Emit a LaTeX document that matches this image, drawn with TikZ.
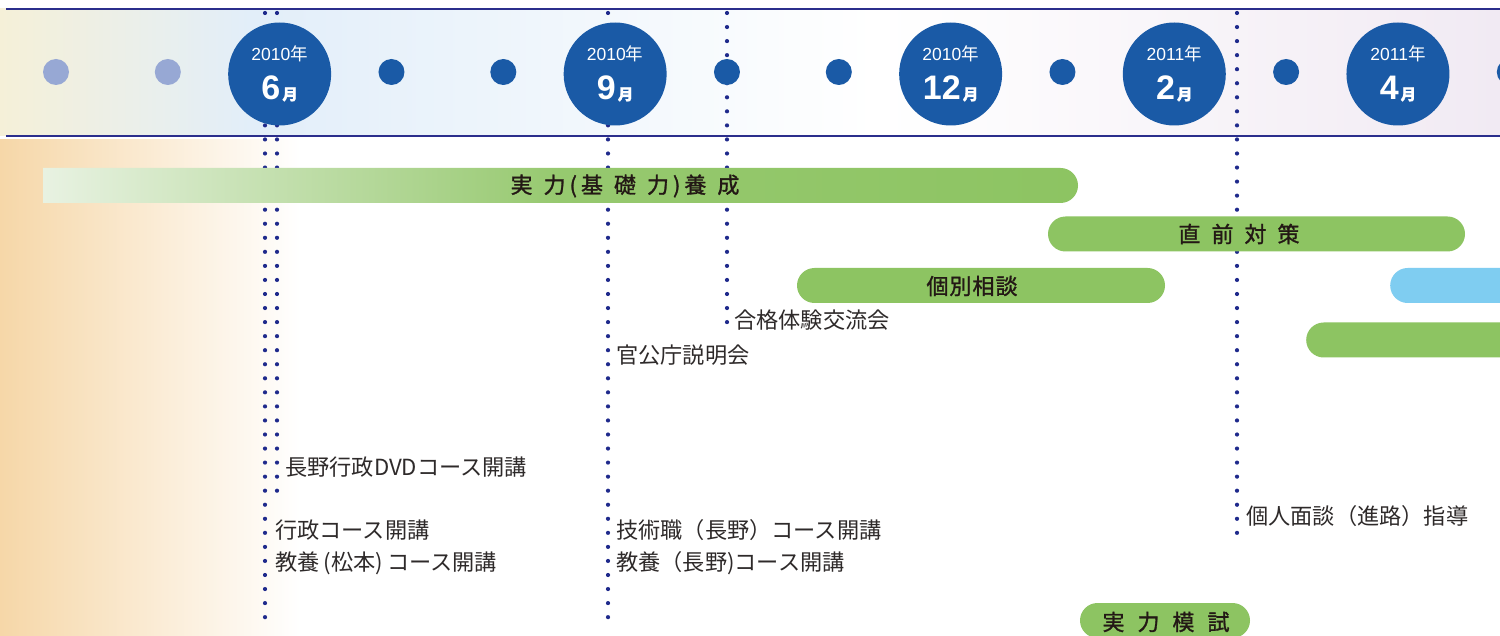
\documentclass[tikz,border=0pt]{standalone}
\usepackage{fontspec}
\setmainfont{Noto Sans CJK JP}
\newfontfamily\barfont[FakeBold=1.3]{Noto Sans CJK JP}
\newfontfamily\digitfont{Liberation Sans}
\usetikzlibrary{shapes.misc}

\definecolor{diskblue}{HTML}{1A5AA6}
\definecolor{palediskblue}{HTML}{97A8D4}
\definecolor{rulenavy}{HTML}{2B2E8C}
\definecolor{dotnavy}{HTML}{1F2A8C}
\definecolor{bargreen}{HTML}{8DC462}
\definecolor{barpale}{HTML}{E8F2E2}
\definecolor{barsky}{HTML}{7FCDF1}
\definecolor{inkdark}{HTML}{231815}
\definecolor{inkgray}{HTML}{2E2A2A}
\definecolor{warmglow}{HTML}{F6D7A8}
\definecolor{headwarm}{HTML}{F5F0D8}
\definecolor{headsky}{HTML}{E2EEF9}
\definecolor{headpink}{HTML}{F1EAF3}

\newcommand{\gap}{\hspace{11pt}}
\newcommand{\pgap}{\hspace{4pt}}

\begin{document}
\begin{tikzpicture}[x=1pt, y=-1pt,
  bigdisk/.style={circle, fill=diskblue, minimum size=103pt, inner sep=0pt},
  smalldisk/.style={circle, fill=diskblue, minimum size=26pt, inner sep=0pt},
  paledisk/.style={smalldisk, fill=palediskblue},
  guide/.style={draw=dotnavy, line width=4.2pt, line cap=round, dash pattern=on 0pt off 14.05pt},
  rule/.style={draw=rulenavy, line width=1.4pt},
  bar/.style={rounded rectangle, fill=bargreen, minimum height=35pt, inner sep=0pt},
  barlabel/.style={text=inkdark, font=\fontsize{22}{22}\barfont, inner sep=0pt},
  event/.style={text=inkgray, font=\fontsize{22.2}{23}\selectfont, anchor=west, inner sep=0pt},
  yeartext/.style={text=white, font=\fontsize{17.5}{18}\selectfont, anchor=base, inner sep=0pt},
  monthtext/.style={text=white, font=\fontsize{34}{34}\digitfont\bfseries, anchor=base, inner sep=0pt},
]
\useasboundingbox (0,0) rectangle (1500,636);
\clip (0,0) rectangle (1500,636);

% background
\fill[white] (0,0) rectangle (1500,636);
\shade[left color=warmglow, right color=white] (0,140) rectangle (300,636);
\shade[left color=headsky, right color=headpink, middle color=white] (250,9) rectangle (1500,136);
\shade[left color=headwarm, right color=headsky] (0,9) rectangle (250,136);

% rules
\coordinate (top west) at (6,9);
\coordinate (top east) at (1500,9);
\coordinate (bot west) at (6,136);
\coordinate (bot east) at (1500,136);
\draw[rule] (top west) -- (top east);
\draw[rule] (bot west) -- (bot east);

% dotted guides
\coordinate (g6a top) at (265,13);   \coordinate (g6a end) at (265,618);
\coordinate (g6b top) at (277,13);   \coordinate (g6b end) at (277,492);
\coordinate (g9 top) at (608,13);    \coordinate (g9 end) at (608,618);
\coordinate (g10 top) at (727,13);   \coordinate (g10 end) at (727,323);
\coordinate (g2 top) at (1237,13);   \coordinate (g2 end) at (1237,534);
\draw[guide] (g6a top) -- (g6a end);
\draw[guide] (g6b top) -- (g6b end);
\draw[guide] (g9 top) -- (g9 end);
\draw[guide] (g10 top) -- (g10 end);
\draw[guide] (g2 top) -- (g2 end);

% timeline disks
\foreach \i in {0,1}
  \node[paledisk] (dot\i) at ({56+111.83*\i},72) {};
\foreach \i in {3,4,6,7,9,11,13}
  \node[smalldisk] (dot\i) at ({56+111.83*\i},72) {};
\foreach \i/\yr/\mo in {2/2010/6, 5/2010/9, 8/2010/12, 10/2011/2, 12/2011/4} {
  \node[bigdisk] (m\mo) at ({56+111.83*\i},74) {};
  \node[yeartext] (y\mo) at ([yshift=13pt]m\mo.center) {{\digitfont\yr}年};
  \node[monthtext] (n\mo) at ([yshift=-26pt]m\mo.center) {\mo\hspace{2pt}{\fontsize{15.5}{15.5}\barfont 月}};
}

% bars
\shade[left color=barpale, right color=bargreen, middle color=bargreen!90!barpale]
  (43,168) -- (1060.5,168) arc (90:-90:17.5pt) -- (43,203) -- cycle;
\node[barlabel] (kiso) at (625,186) {実\gap 力\pgap(\pgap 基\gap 礎\gap 力\pgap)\pgap 養\gap 成};

\node[bar, minimum width=417pt] (chokuzenbar) at (1256.5,234) {};
\node[barlabel] (chokuzen) at (1239,234) {直\gap 前\gap 対\gap 策};

\node[bar, minimum width=368pt] (kobetsubar) at (981,285.5) {};
\node[barlabel] (kobetsu) at (972,286) {個\hspace{1pt}別\hspace{1pt}相\hspace{1pt}談};

\node[bar, fill=barsky, minimum width=300pt, anchor=west] (skybar) at (1390,285.5) {};
\node[bar, minimum width=300pt, anchor=west] (lowbar) at (1306,340) {};

\node[bar, minimum width=170pt] (moshibar) at (1165,620.5) {};
\node[barlabel] (moshi) at (1166,622) {実\hspace{13pt}力\hspace{13pt}模\hspace{13pt}試};

% events
\node[event] (kouryu) at (734,320) {合格体験交流会};
\node[event] (kancho) at (616,355) {官公庁説明会};
\node[event] (dvd) at (285,467) {長野行政DVDコース開講};
\node[event] (gyosei) at (275,530) {行政コース開講};
\node[event] (matsumoto) at (275,563) {教養\pgap(松本)\pgap コース開講};
\node[event] (gijutsu) at (616,530) {技術職（長野）コース開講};
\node[event] (nagano) at (616,563) {教養（長野)コース開講};
\node[event] (mendan) at (1246,516) {個人面談（進路）指導};
\end{tikzpicture}
\end{document}
